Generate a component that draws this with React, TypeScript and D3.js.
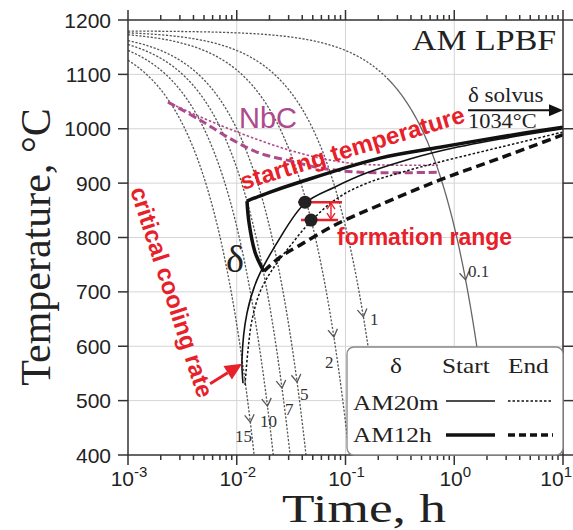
import React from "react";
import * as d3 from "d3";

const W = 573;
const H = 530;
const PL = 128, PR = 563, PT = 20, PB = 455;

// axes
const xDecades = [1e-3, 1e-2, 1e-1, 1, 10];
const xDecadeExp = ["-3", "-2", "-1", "0", "1"];
const yTicks = [400, 500, 600, 700, 800, 900, 1000, 1100, 1200];

// cooling curves (°C/s), all starting from the same temperature
const coolingRates = [15, 10, 7, 5, 2, 1, 0.1];
const coolingLabels = ["15", "10", "7", "5", "2", "1", "0.1"];
const coolingStartTemp = 1180;
const coolingArrowTemps = [460, 490, 523, 534, 617, 654, 722];
const slowCurveSolidFrom = 0.25; // h, where the 0.1 °C/s curve turns solid

// δ phase curves: [time h, temperature °C]
const am12hStartNose: [number, number][] = [
  [0.01242, 867], [0.01297, 827], [0.01472, 773], [0.01707, 744], [0.0178, 738],
];
const am12hStart: [number, number][] = [
  [0.01242, 867], [0.02, 883], [0.0382, 902], [0.2075, 946], [0.74, 966], [2.64, 985], [10, 1003],
];
const am12hEnd: [number, number][] = [
  [0.0178, 738], [0.025, 764], [0.0382, 786], [0.08, 823], [0.2075, 860], [0.74, 906], [2.64, 946], [10, 989],
];
const am20mStart: [number, number][] = [
  [0.01142, 532], [0.01117, 575], [0.01242, 661], [0.01535, 722], [0.02344, 790], [0.04242, 863],
  [0.0801, 893], [0.1576, 919], [0.317, 939], [0.74, 959], [2.64, 981], [10, 1000],
];
const am20mEnd: [number, number][] = [
  [0.01191, 529], [0.01269, 593], [0.01381, 648], [0.01636, 700], [0.02109, 740], [0.02897, 777],
  [0.0492, 832], [0.0853, 873], [0.1576, 900], [0.317, 919], [0.74, 939], [2.64, 966], [10, 994],
];

// NbC curves
const nbcStart: [number, number][] = [
  [0.002333, 1049], [0.00459, 1022], [0.01072, 992], [0.02497, 966], [0.0583, 946], [0.1359, 935], [0.7087, 933],
];
const nbcEnd: [number, number][] = [
  [0.002333, 1049], [0.00459, 1016], [0.00924, 979], [0.01636, 955], [0.0309, 941], [0.0583, 928], [0.1359, 920], [0.7087, 920],
];

// annotations
const solvusTemp = 1034;
const solvusTimes = [1.34, 10];
const formationDots: [number, number][] = [[0.0424, 865], [0.0482, 832]];
const criticalTip: [number, number] = [0.0112, 568];

const legendHeader = ["δ", "Start", "End"];
const legendRows = ["AM20m", "AM12h"];

const RED = "#e8202a";
const PURPLE = "#ad4a8c";
const GREY = "#555";

function ST(props: any) {
  const { x, y, sx = 1, rot = 0, children, ...rest } = props;
  return (
    <text transform={`translate(${x},${y}) rotate(${rot}) scale(${sx},1)`} {...rest}>
      {children}
    </text>
  );
}

export default function App() {
  const x = d3.scaleLog().domain([1e-3, 10]).range([PL, PR]);
  const y = d3.scaleLinear().domain([400, 1200]).range([PB, PT]);

  const line = d3
    .line<[number, number]>()
    .x((d) => x(d[0]))
    .y((d) => y(d[1]))
    .curve(d3.curveCatmullRom.alpha(0.5));
  const lin = d3.line<[number, number]>().x((d) => x(d[0])).y((d) => y(d[1]));

  const minorTicks: number[] = [];
  for (let e = -3; e < 1; e++) {
    for (let k = 2; k <= 9; k++) minorTicks.push(k * Math.pow(10, e));
  }

  const coolSeg = (r: number, ta: number, tb: number) => {
    const pts: [number, number][] = [];
    const n = 240;
    const l0 = Math.log10(ta), l1 = Math.log10(tb);
    for (let i = 0; i <= n; i++) {
      const t = Math.pow(10, l0 + ((l1 - l0) * i) / n);
      pts.push([t, coolingStartTemp - r * 3600 * t]);
    }
    return lin(pts) as string;
  };

  const coolPaths = coolingRates.map((r, i) => {
    const tEnd = Math.min((coolingStartTemp - 400) / (r * 3600), 10);
    if (i === coolingRates.length - 1) {
      return {
        dotted: coolSeg(r, 1e-3, slowCurveSolidFrom),
        solid: coolSeg(r, slowCurveSolidFrom, tEnd),
      };
    }
    return { dotted: coolSeg(r, 1e-3, tEnd), solid: null as string | null };
  });

  const chevrons = coolingRates.map((r, i) => {
    const T = coolingArrowTemps[i];
    const t = (coolingStartTemp - T) / (r * 3600);
    const t0 = (coolingStartTemp - T - 8) / (r * 3600);
    const ax = x(t), ay = y(T);
    const bx = x(t0), by = y(T + 8);
    const dx = ax - bx, dy = ay - by;
    const len = Math.hypot(dx, dy);
    const ux = dx / len, uy = dy / len;
    const L = 9, ang = (32 * Math.PI) / 180;
    const rotv = (a: number) => [
      -(ux * Math.cos(a) - uy * Math.sin(a)) * L,
      -(ux * Math.sin(a) + uy * Math.cos(a)) * L,
    ];
    const p1 = rotv(ang), p2 = rotv(-ang);
    return `M${ax + p1[0]},${ay + p1[1]}L${ax},${ay}L${ax + p2[0]},${ay + p2[1]}`;
  });

  const labelPos: [number, number][] = [
    [235, 442], [260, 427], [285, 415], [300, 400], [325, 368], [370, 325], [468, 277],
  ];

  const d1 = formationDots[0], d2 = formationDots[1];
  const d1x = x(d1[0]), d1y = y(d1[1]);
  const d2x = x(d2[0]), d2y = y(d2[1]);
  const arrX = d1x + 26;

  const tipX = x(criticalTip[0]), tipY = y(criticalTip[1]);
  const cdx = -32, cdy = 20;
  const clen = Math.hypot(cdx, cdy);
  const cux = -cdx / clen, cuy = -cdy / clen;
  const headL = 17, headW = 8;
  const hbx = tipX - cux * headL, hby = tipY - cuy * headL;

  const sy = y(solvusTemp);
  const sx0 = x(solvusTimes[0]), sx1 = x(solvusTimes[1]);

  const LX = 347, LY = 347, LW = PR - 347, LH = PB - 347;

  return (
    <svg width={W} height={H} style={{ position: "absolute", left: 0, top: 0, background: "#fff" }}>
      <defs>
        <clipPath id="plot">
          <rect x={PL} y={PT} width={PR - PL} height={PB - PT} />
        </clipPath>
      </defs>
      <rect x={0} y={0} width={W} height={H} fill="#fff" />

      {/* grid */}
      <g stroke="#d4d4d4" strokeWidth={1}>
        {yTicks.slice(1, -1).map((v) => (
          <line key={v} x1={PL} x2={PR} y1={y(v)} y2={y(v)} />
        ))}
        {xDecades.slice(1, -1).map((v) => (
          <line key={v} x1={x(v)} x2={x(v)} y1={PT} y2={PB} />
        ))}
      </g>

      <g clipPath="url(#plot)">
        {/* cooling curves */}
        {coolPaths.map((p, i) => (
          <g key={i}>
            <path d={p.dotted} fill="none" stroke={GREY} strokeWidth={1.3} strokeDasharray="2.2,1.6" />
            {p.solid && <path d={p.solid} fill="none" stroke="#666" strokeWidth={1.3} />}
          </g>
        ))}
        {chevrons.map((p, i) => (
          <path key={i} d={p} fill="none" stroke={GREY} strokeWidth={1.3} />
        ))}

        {/* NbC */}
        <path d={line(nbcStart) as string} fill="none" stroke={PURPLE} strokeWidth={1.6} strokeDasharray="2.5,2" />
        <path d={line(nbcEnd) as string} fill="none" stroke={PURPLE} strokeWidth={3} strokeDasharray="8,4" />

        {/* delta curves */}
        <path d={line(am20mEnd) as string} fill="none" stroke="#111" strokeWidth={1.5} strokeDasharray="2.5,2" />
        <path d={line(am20mStart) as string} fill="none" stroke="#111" strokeWidth={1.6} />
        <path d={line(am12hEnd) as string} fill="none" stroke="#111" strokeWidth={3.5} strokeDasharray="9,5" />
        <path d={line(am12hStartNose) as string} fill="none" stroke="#111" strokeWidth={3.5} />
        <path d={line(am12hStart) as string} fill="none" stroke="#111" strokeWidth={3.5} />
      </g>

      {/* cooling labels */}
      <g fontFamily="Liberation Serif" fontSize={17} fill="#333">
        {coolingLabels.map((l, i) => (
          <text key={l} x={labelPos[i][0]} y={labelPos[i][1]}>
            {l}
          </text>
        ))}
      </g>

      {/* formation range */}
      <g stroke={RED} strokeWidth={2.5} fill="none">
        <line x1={d1x - 7} x2={d1x + 37} y1={d1y} y2={d1y} />
        <line x1={d2x - 10} x2={d2x + 27} y1={d2y} y2={d2y} />
        <g strokeWidth={1.4}>
          <line x1={arrX} x2={arrX} y1={d1y + 1} y2={d2y - 1} />
          <path d={`M${arrX - 4},${d1y + 7}L${arrX},${d1y + 1}L${arrX + 4},${d1y + 7}`} />
          <path d={`M${arrX - 4},${d2y - 7}L${arrX},${d2y - 1}L${arrX + 4},${d2y - 7}`} />
        </g>
      </g>
      {formationDots.map((d, i) => (
        <circle key={i} cx={x(d[0])} cy={y(d[1])} r={6.5} fill="#222" />
      ))}

      {/* critical cooling rate arrow */}
      <line x1={tipX + cdx} y1={tipY + cdy} x2={hbx} y2={hby} stroke={RED} strokeWidth={3} />
      <path
        d={`M${tipX},${tipY}L${hbx - cuy * headW},${hby + cux * headW}L${hbx + cuy * headW},${hby - cux * headW}Z`}
        fill={RED}
      />

      {/* solvus arrow */}
      <line x1={sx0} x2={sx1 - 12} y1={sy} y2={sy} stroke="#111" strokeWidth={2} />
      <path d={`M${sx1},${sy}L${sx1 - 14},${sy - 6}L${sx1 - 14},${sy + 6}Z`} fill="#111" />

      {/* frame */}
      <rect x={PL} y={PT} width={PR - PL} height={PB - PT} fill="none" stroke="#333" strokeWidth={1.5} />

      {/* ticks */}
      <g stroke="#333" strokeWidth={1.5}>
        {yTicks.map((v) => (
          <g key={v}>
            <line x1={PL - 10} x2={PL} y1={y(v)} y2={y(v)} />
            <line x1={PR} x2={PR + 10} y1={y(v)} y2={y(v)} />
          </g>
        ))}
        {xDecades.map((v) => (
          <g key={v}>
            <line x1={x(v)} x2={x(v)} y1={PB} y2={PB + 10} />
            <line x1={x(v)} x2={x(v)} y1={PT - 10} y2={PT} />
          </g>
        ))}
        {minorTicks.map((v) => (
          <g key={v}>
            <line x1={x(v)} x2={x(v)} y1={PB} y2={PB + 5} />
            <line x1={x(v)} x2={x(v)} y1={PT - 5} y2={PT} />
          </g>
        ))}
      </g>

      {/* tick labels */}
      <g fontFamily="Liberation Sans" fontSize={21} fill="#222">
        {yTicks.map((v) => (
          <text key={v} x={PL - 17} y={y(v) + 7.5} textAnchor="end">
            {v}
          </text>
        ))}
        {xDecades.map((v, i) => {
          const last = i === xDecades.length - 1;
          return (
            <text key={v} x={last ? W - 1 : x(v) + 1} y={PB + 31} textAnchor={last ? "end" : "middle"}>
              10
              <tspan fontSize={15} dy={-9}>
                {xDecadeExp[i]}
              </tspan>
            </text>
          );
        })}
      </g>

      {/* axis titles */}
      <ST x={50} y={247} rot={-90} fontFamily="Liberation Serif" fontSize={42} textAnchor="middle" fill="#222">
        Temperature, °C
      </ST>
      <ST x={282} y={522} sx={1.3} fontFamily="Liberation Serif" fontSize={41} fill="#222">
        Time, h
      </ST>

      {/* texts */}
      <ST x={412} y={50} sx={1.13} fontFamily="Liberation Serif" fontSize={30} fill="#222">
        AM LPBF
      </ST>
      <ST x={468} y={102} sx={1.15} fontFamily="Liberation Serif" fontSize={20} fill="#222">
        δ solvus
      </ST>
      <ST x={468} y={128} sx={1.12} fontFamily="Liberation Serif" fontSize={20} fill="#222">
        {`${solvusTemp}°C`}
      </ST>
      <ST x={239} y={128} fontFamily="Liberation Sans" fontSize={29} fill={PURPLE}>
        NbC
      </ST>
      <ST x={226} y={272} fontFamily="Liberation Serif" fontSize={38} fill="#222">
        δ
      </ST>
      <ST x={243} y={190} rot={-17} fontFamily="Liberation Sans" fontWeight="bold" fontSize={24} fill={RED}>
        starting temperature
      </ST>
      <ST x={337} y={245} fontFamily="Liberation Sans" fontWeight="bold" fontSize={23} fill={RED}>
        formation range
      </ST>
      <ST x={130} y={190} rot={72} fontFamily="Liberation Sans" fontWeight="bold" fontSize={24} fill={RED}>
        critical cooling rate
      </ST>

      {/* legend */}
      <rect x={LX} y={LY} width={LW} height={LH} rx={7} fill="#fff" stroke="#888" strokeWidth={1.3} />
      <g fontFamily="Liberation Serif" fontSize={22} fill="#222">
        <ST x={390} y={373} sx={1.15}>{legendHeader[0]}</ST>
        <ST x={442} y={373} sx={1.15}>{legendHeader[1]}</ST>
        <ST x={508} y={373} sx={1.15}>{legendHeader[2]}</ST>
        <ST x={353} y={410} sx={1.15}>{legendRows[0]}</ST>
        <ST x={353} y={442} sx={1.15}>{legendRows[1]}</ST>
      </g>
      <line x1={446} x2={495} y1={401} y2={401} stroke="#111" strokeWidth={1.6} />
      <line x1={508} x2={553} y1={401} y2={401} stroke="#111" strokeWidth={1.5} strokeDasharray="2.5,2" />
      <line x1={446} x2={495} y1={435} y2={435} stroke="#111" strokeWidth={3.5} />
      <line x1={508} x2={553} y1={435} y2={435} stroke="#111" strokeWidth={3.5} strokeDasharray="7,4" />
    </svg>
  );
}
